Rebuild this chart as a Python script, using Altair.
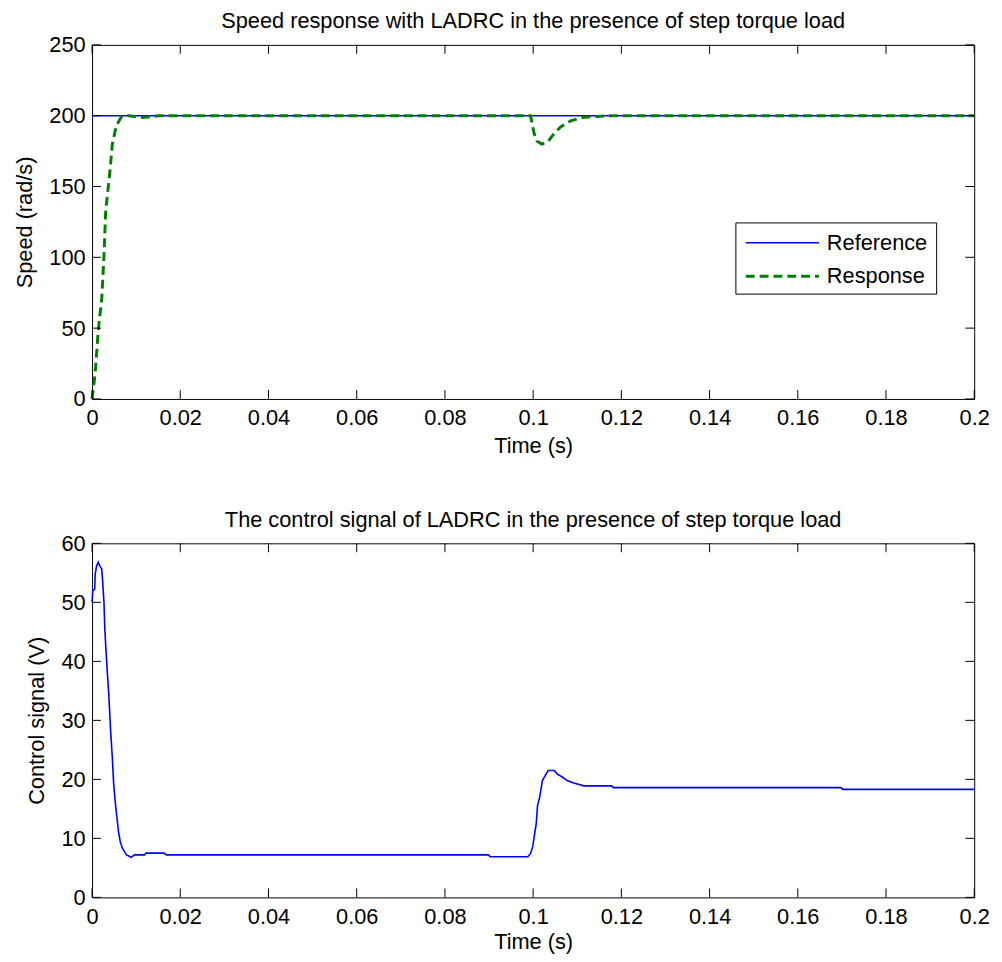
import altair as alt
import pandas as pd

# ---------------- data ----------------
ref_t = [0.0, 0.2]
ref_v = [200, 200]

resp_t = [0.0, 0.0007, 0.0014, 0.0022, 0.0027, 0.0031, 0.0040, 0.0046, 0.0055, 0.0066,
          0.0078, 0.0095, 0.0115, 0.0135, 0.0150, 0.0994, 0.0997, 0.1002, 0.1009, 0.1020,
          0.1033, 0.1048, 0.1063, 0.1085, 0.1112, 0.1145, 0.1168, 0.2]
resp_v = [0, 18, 48, 71, 101, 133, 159, 180, 193, 199,
          200.2, 199.5, 198.8, 199.3, 200, 200, 195.8, 187.7, 181.9, 180,
          181.4, 187.7, 192.3, 196.3, 198.8, 199.5, 200, 200]

ctrl_t = [0.0, 0.00015, 0.0006, 0.0007, 0.0010, 0.0014, 0.0018, 0.0022, 0.0024, 0.0027,
          0.0029, 0.0033, 0.0038, 0.0042, 0.0046, 0.0049, 0.0053, 0.0057, 0.0060, 0.0064,
          0.0069, 0.0078, 0.0089, 0.0096, 0.0119, 0.0122, 0.0163, 0.0169, 0.0899, 0.0902,
          0.0988, 0.0994, 0.0999, 0.1003, 0.1007, 0.1010, 0.1014, 0.1018, 0.1021, 0.1027,
          0.1034, 0.1048, 0.1055, 0.1066, 0.1077, 0.1092, 0.1115, 0.1178, 0.1182, 0.1698,
          0.1702, 0.2]
ctrl_v = [50, 52, 52.2, 54.7, 56.1, 56.8, 56.1, 55.6, 53.6, 50,
          45.3, 40, 34.2, 28.3, 23.6, 19.2, 15.8, 13.1, 11.1, 9.4,
          8.3, 7.2, 6.8, 7.2, 7.2, 7.5, 7.5, 7.2, 7.2, 6.9,
          6.9, 7.4, 8.6, 10.6, 12.5, 15.6, 16.7, 18.4, 19.8, 20.6,
          21.5, 21.5, 20.9, 20.4, 19.8, 19.4, 18.9, 18.9, 18.6, 18.6,
          18.3, 18.3]

x_ticks = [0, 0.02, 0.04, 0.06, 0.08, 0.1, 0.12, 0.14, 0.16, 0.18, 0.2]
speed_ticks = [0, 50, 100, 150, 200, 250]
ctrl_ticks = [0, 10, 20, 30, 40, 50, 60]

series_names = ["Reference", "Response"]
series_colors = ["#0000FF", "#008000"]

# ---------------- style ----------------
W, H = 892, 358
FONT = "Liberation Sans"
FS = 22
TL = 9  # inward tick length
DASH = [9, 5]

speed_df = pd.concat([
    pd.DataFrame({"t": ref_t, "v": ref_v, "series": series_names[0]}),
    pd.DataFrame({"t": resp_t, "v": resp_v, "series": series_names[1]}),
], ignore_index=True)
ctrl_df = pd.DataFrame({"t": ctrl_t, "v": ctrl_v})


def x_axis(title_pad=7):
    return alt.Axis(values=x_ticks, format="~g", title="Time (s)", grid=False, ticks=False,
                    domain=False, labelFlush=False, labelFontSize=FS, titleFontSize=FS,
                    labelFont=FONT, titleFont=FONT, titleFontWeight="normal",
                    labelColor="black", titleColor="black", labelPadding=9,
                    titlePadding=title_pad)


def y_axis(vals, title):
    return alt.Axis(values=vals, title=title, grid=False, ticks=False, domain=False,
                    labelFontSize=FS, titleFontSize=FS, labelFont=FONT, titleFont=FONT,
                    titleFontWeight="normal", labelColor="black", titleColor="black",
                    labelPadding=7, titlePadding=13)


xs = alt.Scale(domain=[0, 0.2], nice=False, zero=False)
ys1 = alt.Scale(domain=[0, 250], nice=False)
ys2 = alt.Scale(domain=[0, 60], nice=False)


def tick_layers(yscale, yvals, ytitle, title_pad=7):
    xt = pd.DataFrame({"tx": x_ticks})
    yt = pd.DataFrame({"ty": yvals})
    xa = alt.X("tx:Q", scale=xs, axis=x_axis(title_pad))
    ya = alt.Y("ty:Q", scale=yscale, axis=y_axis(yvals, ytitle))
    rule = dict(color="black", strokeWidth=1)
    bottom = alt.Chart(xt).mark_rule(**rule).encode(x=xa, y=alt.value(H), y2=alt.value(H - TL))
    top = alt.Chart(xt).mark_rule(**rule).encode(x=xa, y=alt.value(0), y2=alt.value(TL))
    left = alt.Chart(yt).mark_rule(**rule).encode(y=ya, x=alt.value(0), x2=alt.value(TL))
    right = alt.Chart(yt).mark_rule(**rule).encode(y=ya, x=alt.value(W), x2=alt.value(W - TL))
    return [bottom, top, left, right]


def title(text):
    return alt.TitleParams(text, fontSize=FS, font=FONT, fontWeight="normal", color="black",
                           frame="group", offset=1)


# ---------------- top panel ----------------
speed_lines = alt.Chart(speed_df).mark_line().encode(
    x=alt.X("t:Q", scale=xs, axis=x_axis()),
    y=alt.Y("v:Q", scale=ys1, axis=y_axis(speed_ticks, "Speed (rad/s)")),
    color=alt.Color("series:N", scale=alt.Scale(domain=series_names, range=series_colors), legend=None),
    strokeDash=alt.StrokeDash("series:N", scale=alt.Scale(domain=series_names, range=[[1, 0], DASH]), legend=None),
    strokeWidth=alt.StrokeWidth("series:N", scale=alt.Scale(domain=series_names, range=[1.4, 3]), legend=None),
)

# legend box (MATLAB style, inside the axes)
leg_df = pd.DataFrame({"series": series_names})
LX0, LX1, LY0, LY1 = 651, 854, 180, 252
legend_box = alt.Chart(leg_df.head(1)).mark_rect(fill="white", stroke="black", strokeWidth=1).encode(
    x=alt.value(LX0), x2=alt.value(LX1), y=alt.value(LY0), y2=alt.value(LY1))
legend_layers = [legend_box]
for i, name in enumerate(series_names):
    row = leg_df[leg_df["series"] == name]
    yy = 200 + 34 * i
    legend_layers.append(
        alt.Chart(row).mark_rule(color=series_colors[i], strokeWidth=[1.4, 3][i],
                                 strokeDash=[[1, 0], DASH][i]).encode(
            x=alt.value(661), x2=alt.value(735), y=alt.value(yy)))
    legend_layers.append(
        alt.Chart(row).mark_text(align="left", baseline="middle", font=FONT, fontSize=FS,
                                 color="black").encode(
            x=alt.value(743), y=alt.value(yy), text="series:N"))

top_chart = alt.layer(speed_lines, *tick_layers(ys1, speed_ticks, "Speed (rad/s)"),
                      *legend_layers).properties(
    width=W, height=H,
    title=title("Speed response with LADRC in the presence of step torque load"),
)

# ---------------- bottom panel ----------------
ctrl_line = alt.Chart(ctrl_df).mark_line(color="#0000FF", strokeWidth=1.6).encode(
    x=alt.X("t:Q", scale=xs, axis=x_axis(5)),
    y=alt.Y("v:Q", scale=ys2, axis=y_axis(ctrl_ticks, "Control signal (V)")),
)

bottom_chart = alt.layer(ctrl_line, *tick_layers(ys2, ctrl_ticks, "Control signal (V)", 5)).properties(
    width=W, height=H,
    title=title("The control signal of LADRC in the presence of step torque load"),
)

chart = alt.vconcat(top_chart, bottom_chart, spacing=51).resolve_scale(
    y="independent"
).properties(
    background="white", padding={"left": 4, "top": -4, "right": 4, "bottom": 0}
).configure_view(stroke="black", strokeWidth=1)

chart.save("out.html", embed_options={"renderer": "svg", "actions": False})
